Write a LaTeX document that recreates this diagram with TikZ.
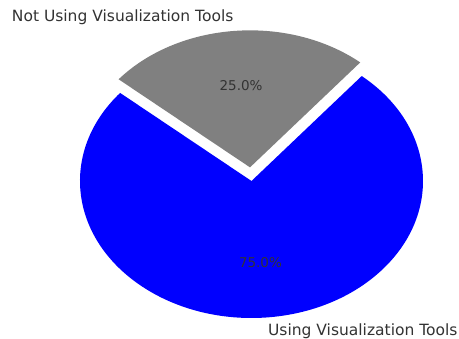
\documentclass[tikz,border=0pt]{standalone}
\usepackage{fontspec}
\setmainfont{DejaVu Sans}
\definecolor{slicegray}{HTML}{808080}
\definecolor{slicetext}{HTML}{333333}
\begin{document}
\begin{tikzpicture}[x=171.5pt, y=137pt,
  wedgearc/.style={x radius=171.5pt, y radius=137pt},
  catlabel/.style={inner sep=0pt, text=slicetext, font=\fontsize{15.5}{18}\selectfont},
  pctlabel/.style={inner sep=0pt, text=slicetext, font=\fontsize{13.5}{16}\selectfont}]
  % page frame
  \useasboundingbox[fill=white] (-251.5pt,-158pt) rectangle (207.5pt,181pt);
  % 75% slice, from 140 deg counter-clockwise to 410 deg
  \fill[blue] (0,0) -- (140:1)
    arc[start angle=140, end angle=410, wedgearc] -- cycle;
  % 25% slice, pulled out by a tenth of the radius
  \begin{scope}[shift={(95:0.1)}]
    \fill[slicegray] (0,0) -- (50:1)
      arc[start angle=50, end angle=140, wedgearc] -- cycle;
  \end{scope}
  % slice labels and percentages
  \node[catlabel, anchor=west] (lusing) at (275:1.1) {Using Visualization Tools};
  \node[catlabel, anchor=east] (lnot) at (95:1.2) {Not Using Visualization Tools};
  \node[pctlabel] (pusing) at (275:0.6) {75.0\%};
  \node[pctlabel] (pnot) at (95:0.7) {25.0\%};
\end{tikzpicture}
\end{document}
